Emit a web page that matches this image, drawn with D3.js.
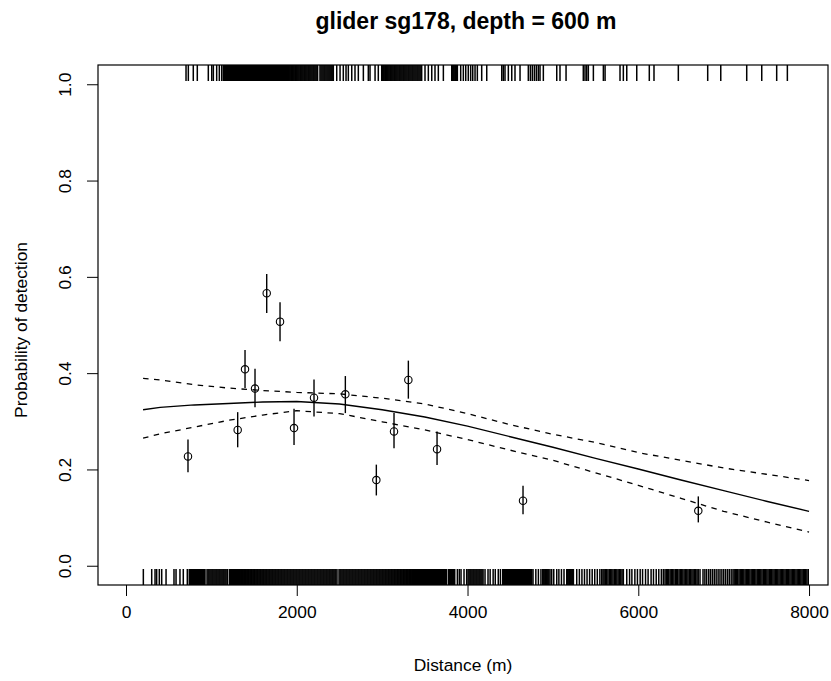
<!DOCTYPE html>
<html>
<head>
<meta charset="utf-8">
<script src="https://cdn.jsdelivr.net/npm/d3@7"></script>
<style>
  body { margin: 0; background: #fff; }
  text { font-family: "Liberation Sans", Arial, sans-serif; fill: #000; }
</style>
</head>
<body>
<div id="chart"></div>
<script>
// binned detection probabilities (distance in m)
const binDist = [726, 1308, 1394, 1511, 1648, 1804, 1968, 2202, 2569, 2932, 3139, 3307, 3643, 4650, 6703];
const binProb = [0.227, 0.282, 0.408, 0.368, 0.566, 0.507, 0.286, 0.349, 0.356, 0.178, 0.279, 0.386, 0.242, 0.135, 0.114];
const binLo   = [0.194, 0.246, 0.369, 0.329, 0.525, 0.466, 0.251, 0.310, 0.317, 0.146, 0.244, 0.347, 0.209, 0.107, 0.090];
const binHi   = [0.262, 0.319, 0.448, 0.409, 0.606, 0.547, 0.326, 0.387, 0.394, 0.210, 0.317, 0.426, 0.279, 0.166, 0.144];

// fitted detection function and confidence band
const fitDist  = [200, 400, 800, 1200, 1600, 2000, 2500, 3000, 3500, 4000, 4500, 5000, 5500, 6000, 6500, 7000, 7500, 8000];
const fitProb  = [0.324, 0.329, 0.334, 0.337, 0.340, 0.341, 0.336, 0.324, 0.309, 0.290, 0.268, 0.246, 0.223, 0.201, 0.178, 0.156, 0.134, 0.113];
const fitUpper = [0.389, 0.386, 0.376, 0.369, 0.364, 0.360, 0.357, 0.348, 0.336, 0.316, 0.293, 0.273, 0.256, 0.235, 0.219, 0.203, 0.190, 0.177];
const fitLower = [0.265, 0.274, 0.288, 0.302, 0.313, 0.322, 0.316, 0.299, 0.282, 0.262, 0.240, 0.219, 0.193, 0.167, 0.140, 0.113, 0.091, 0.070];

// rug: distances of detected (top) and missed (bottom) events
const detected = [703, 730, 788, 835, 964, 1004, 1023, 1062, 1093, 1121,
  1140,1152,1163,1175,1188,1199,1211,1222,1235,1247,1258,1270,1282,1293,1305,1318,1329,1341,1352,1364,1377,1388,1400,1411,1423,1436,1447,1459,1470,1482,1494,1506,1517,1529,1541,1553,1565,1576,1588,1600,1612,1623,1635,1647,1659,1671,1682,1694,1706,1718,1729,1741,1753,1765,1777,1788,1800,1812,1824,1835,1847,1859,1871,1882,1894,1906,1918,1930,1941,1953,1965,1977,1988,2000,2012,2024,2036,2047,2059,2071,2083,2094,2106,2118,2130,2141,2153,2165,2177,2189,2200,2212,2224,2236,2244,
  2272,2284,2296,2308,2320,2331,2343,2355,2367,2379,2391,2403,2415,2428,
  2468, 2507, 2545, 2577, 2604, 2644, 2682, 2721, 2780, 2838, 2858, 2917, 2955,
  2995,3007,3019,3031,3042,3054,3066,3078,3090,3101,3113,3125,3137,3148,3160,3172,3184,3196,3207,3219,3231,3243,3254,3266,3278,3290,3302,3313,3325,3337,3349,3360,3372,3384,3396,3408,3419,3431,3443,3455,3463,
  3502, 3541, 3581, 3619, 3658, 3717,
  3815,3827,3839,3851,3862,3874,3881,
  3920, 3951, 3979, 4009, 4037, 4061, 4088, 4115, 4166, 4225,
  4401, 4419, 4439, 4478, 4518, 4556, 4615,
  4712, 4736, 4759, 4783, 4806, 4829, 4849, 4888,
  5045, 5083, 5154, 5356, 5376, 5396, 5415, 5474, 5591, 5611,
  5786, 5825, 5865, 5982, 6129, 6184, 6469, 6813, 6966, 7270, 7446, 7621, 7746];

const missed = [203, 301, 340, 359, 390, 418, 469, 562, 586, 632, 671, 718,
  741,753,765,776,788,800,812,823,835,847,858,870,882,894,905,917,925,
  949,961,972,984,996,1008,1019,1031,1043,1055,1066,1078,1090,1101,1113,1125,1137,1148,1160,1172,1186,
  1210,1222,1233,1245,1257,1268,1280,1292,1303,1315,1327,1338,1350,1362,1373,1385,1397,1408,1420,1432,1443,1455,1467,1478,1490,1502,1513,1525,1537,1548,1560,1572,1583,1595,1607,1618,1630,1642,1653,1665,1677,1688,1700,1712,1723,1735,1747,1758,1770,1782,1793,1805,1817,1828,1840,1852,1863,1875,1887,1898,1910,1922,1933,1945,1957,1968,1980,1992,2003,2015,2027,2038,2050,2062,2073,2085,2097,2108,2120,2132,2143,2155,2167,2178,2190,2202,2213,2225,2237,2248,2260,2272,2283,2295,2307,2318,2330,2342,2353,2365,2377,2388,2400,2412,2423,2435,2447,2458,2471,
  2495,2507,2518,2530,2542,2553,2565,2577,2588,2600,2612,2623,2635,2647,2658,2670,2682,2693,2705,2717,2728,2740,2752,2763,2775,2787,2798,2810,2822,2833,2845,2857,2868,2880,2892,2903,2915,2927,2938,2950,2962,2973,2985,2997,3008,3020,3032,3043,3055,3067,3078,3090,3102,3113,3125,3137,3148,3160,3172,3183,3195,3207,3218,3230,3242,3253,3265,3277,3288,3300,3312,3323,3335,3347,3358,3370,3382,3393,3405,3417,3428,3440,3452,3463,3475,3487,3498,3510,3522,3533,3545,3557,3568,3580,3592,3603,3615,3627,3638,3650,3662,3673,3685,3697,3708,3720,3732,3743,3751,
  3775,3787,3798,3810,3822,3834,
  3850,3881,3904,3924,3959,3990,
  4006,4018,4030,4041,4053,4065,4076,4088,4100,4111,4123,4135,4146,4158,4170,4182,
  4205,4240,4265,4300,4325,4360,4385,
  4412,4424,4435,4447,4459,4470,4482,4494,4505,4517,4529,4540,4552,4564,4575,4587,4599,4610,4622,4634,4645,4657,4669,4680,4692,4704,4715,4727,4739,4752,
  4767,4800,4830,4860,
  4881,4893,4905,4916,4928,4940,4952,4966,
  4986,5010,5045,5070,5100,5130,
  5162,5174,5186,5197,5209,5221,5232,5240,
  5279,5310,5340,5370,5400,5430,5460,5490,5520,5550,
  5572,5587,5600,5616,5630,5645,5661,5675,5690,5704,5720,5735,5749,5764,5780,5795,5810,5825,
  5865,5898,5925,5960,5990,6022,6050,6085,6115,6150,6178,6210,6240,6270,6293,
  6313,6328,6342,6357,6373,6388,6402,6417,6433,6448,6462,6478,6493,6508,6522,6537,6553,6568,6582,6597,6613,6628,6642,6657,6673,6688,6702,6723,
  6758,6780,6801,6825,6846,6868,6890,6912,6935,6957,6979,7001,7023,7045,7066,7088,7109,
  7123,7137,7151,7165,7180,7194,7208,7222,7236,7251,7265,7279,7293,7307,7322,7336,7350,7364,7378,7393,7407,7421,7435,7449,7464,7478,7492,7506,7520,7535,7549,7563,7577,7591,7606,7620,7634,7648,7662,7677,7691,7705,7719,7733,7748,7762,7776,7790,7804,7819,7833,7847,7861,7875,7890,7904,7918,7932,7946,7961,7975,7991];

const xTicks = [0, 2000, 4000, 6000, 8000];
const yTicks = [0, 0.2, 0.4, 0.6, 0.8, 1.0];

const W = 831, H = 681;
const box = { left: 98, right: 828, top: 65, bottom: 585 };
const fontSize = 17.4;

const svg = d3.select('#chart').append('svg')
  .attr('width', W)
  .attr('height', H);

// R style axis limits (range padded by 4%)
const x = d3.scaleLinear()
  .domain([-328, 8222])
  .range([box.left, box.right]);

const y = d3.scaleLinear()
  .domain([-0.04, 1.04])
  .range([box.bottom, box.top]);

// title
svg.append('text')
  .attr('x', (box.left + box.right) / 2 + 3)
  .attr('y', 29)
  .attr('text-anchor', 'middle')
  .attr('font-weight', 'bold')
  .attr('font-size', 23)
  .text('glider sg178, depth = 600 m');

// rugs
const rugLen = 16;
svg.append('g').attr('class', 'rug-top')
  .selectAll('line')
  .data(detected)
  .enter().append('line')
  .attr('x1', d => x(d)).attr('x2', d => x(d))
  .attr('y1', box.top).attr('y2', box.top + rugLen)
  .attr('stroke', '#000')
  .attr('stroke-width', 1.5);

svg.append('g').attr('class', 'rug-bottom')
  .selectAll('line')
  .data(missed)
  .enter().append('line')
  .attr('x1', d => x(d)).attr('x2', d => x(d))
  .attr('y1', box.bottom - rugLen).attr('y2', box.bottom)
  .attr('stroke', '#000')
  .attr('stroke-width', 1.5);

// fitted curve and band
const fitData = fitDist.map((d, i) => ({ d: d, p: fitProb[i], lo: fitLower[i], hi: fitUpper[i] }));

svg.append('path')
  .datum(fitData)
  .attr('fill', 'none')
  .attr('stroke', '#000')
  .attr('stroke-width', 1.4)
  .attr('d', d3.line().x(d => x(d.d)).y(d => y(d.p)));

['lo', 'hi'].forEach(function(k) {
  svg.append('path')
    .datum(fitData)
    .attr('fill', 'none')
    .attr('stroke', '#000')
    .attr('stroke-width', 1.3)
    .attr('stroke-dasharray', '5.5,5.5')
    .attr('d', d3.line().x(d => x(d.d)).y(d => y(d[k])));
});

// binned points with error bars
const bins = binDist.map((d, i) => ({ d: d, p: binProb[i], lo: binLo[i], hi: binHi[i] }));

svg.append('g').selectAll('line')
  .data(bins)
  .enter().append('line')
  .attr('x1', d => x(d.d)).attr('x2', d => x(d.d))
  .attr('y1', d => y(d.lo)).attr('y2', d => y(d.hi))
  .attr('stroke', '#000')
  .attr('stroke-width', 1.4);

svg.append('g').selectAll('circle')
  .data(bins)
  .enter().append('circle')
  .attr('cx', d => x(d.d))
  .attr('cy', d => y(d.p))
  .attr('r', 3.7)
  .attr('fill', 'none')
  .attr('stroke', '#000')
  .attr('stroke-width', 1.1);

// axes
const xAxis = svg.append('g')
  .attr('transform', 'translate(0,' + box.bottom + ')')
  .call(d3.axisBottom(x).tickValues(xTicks).tickSize(11).tickPadding(10).tickFormat(d3.format('d')));
xAxis.select('.domain').remove();
xAxis.selectAll('text').attr('font-size', fontSize).attr('font-family', null);

const yAxis = svg.append('g')
  .attr('transform', 'translate(' + box.left + ',0)')
  .call(d3.axisLeft(y).tickValues(yTicks).tickSize(11).tickFormat(d3.format('.1f')));
yAxis.select('.domain').remove();
yAxis.selectAll('text')
  .attr('font-size', fontSize)
  .attr('font-family', null)
  .attr('transform', 'rotate(-90)')
  .attr('x', 0)
  .attr('y', -27)
  .attr('dy', 0)
  .attr('text-anchor', 'middle');

svg.selectAll('.tick line').attr('stroke', '#000').attr('stroke-width', 1);

// plot box
svg.append('rect')
  .attr('x', box.left).attr('y', box.top)
  .attr('width', box.right - box.left)
  .attr('height', box.bottom - box.top)
  .attr('fill', 'none')
  .attr('stroke', '#000')
  .attr('stroke-width', 1.2);

// axis titles
svg.append('text')
  .attr('x', (box.left + box.right) / 2)
  .attr('y', 671)
  .attr('text-anchor', 'middle')
  .attr('font-size', fontSize)
  .text('Distance (m)');

svg.append('text')
  .attr('transform', 'translate(27,330) rotate(-90)')
  .attr('text-anchor', 'middle')
  .attr('font-size', fontSize)
  .text('Probability of detection');
</script>
</body>
</html>
